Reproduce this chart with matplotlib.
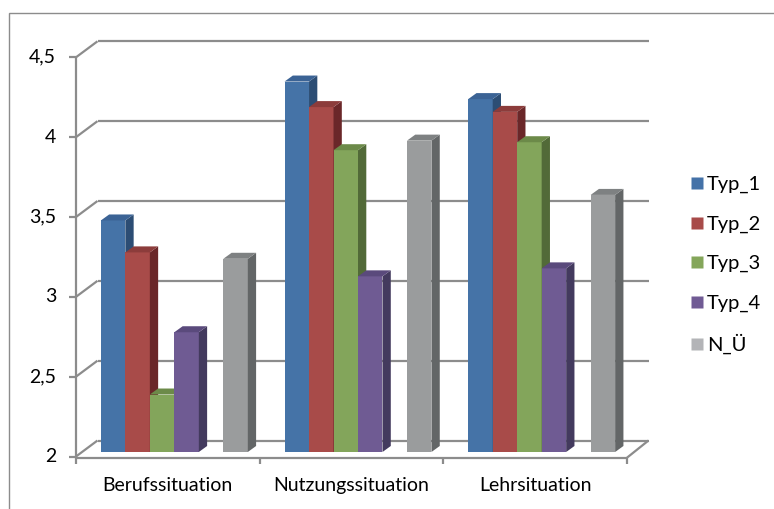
import matplotlib
matplotlib.use("Agg")
import matplotlib.pyplot as plt
from matplotlib.patches import Polygon, Rectangle
from matplotlib.lines import Line2D

plt.rcParams['font.family'] = ['Lato', 'DejaVu Sans']

# ---- data -------------------------------------------------------------
categories = ["Berufssituation", "Nutzungssituation", "Lehrsituation"]
series_names = ["Typ_1", "Typ_2", "Typ_3", "Typ_4", "N_Ü"]
typ_1 = [3.45, 4.32, 4.21]
typ_2 = [3.25, 4.16, 4.13]
typ_3 = [2.36, 3.89, 3.94]
typ_4 = [2.75, 3.10, 3.15]
n_ue = [3.21, 3.95, 3.61]
y_ticks = [2, 2.5, 3, 3.5, 4, 4.5]
y_tick_labels = ["2", "2,5", "3", "3,5", "4", "4,5"]

# ---- styling ----------------------------------------------------------
front_cols = ["#4573A7", "#A84B49", "#83A55B", "#6F5B93", "#9A9C9D"]
top_cols = ["#3B6395", "#8C3C3B", "#6C8A49", "#5A4A7C", "#7E8182"]
side_cols = ["#2C4D74", "#6A2729", "#526A38", "#433A5E", "#636667"]
legend_cols = ["#4472A8", "#A84B49", "#84A65A", "#705B94", "#B3B4B7"]
grid_col = "#8C8C8C"
fs = 14

W, H = 774, 509
fig = plt.figure(figsize=(W / 100, H / 100), dpi=100)

# front plane of the 3-D box (pixels)
x0, x1 = 76, 627
y_top, y_bot = 57.3, 456.5
ax = fig.add_axes([x0 / W, 1 - y_bot / H, (x1 - x0) / W, (y_bot - y_top) / H])
ax.set_xlim(0, len(categories))
ax.set_ylim(2, 4.5)
ax.axis("off")

sx = (x1 - x0) / len(categories)      # px per category
sy = (y_bot - y_top) / 2.5            # px per value unit


def off(px, py):
    """pixel offset -> data offset"""
    return px / sx, py / sy


wdx, wdy = off(21.5, 16)   # depth of the wall box
fdx, fdy = off(6.5, 4.5)   # bar front plane
bdx, bdy = off(8.3, 6.0)   # bar depth

lk = dict(color=grid_col, lw=1.6, clip_on=False, solid_capstyle="butt")
ymin = 2

# back wall grid lines and left wall diagonals
for v in y_ticks:
    ax.plot([wdx, len(categories) + wdx], [v + wdy, v + wdy], zorder=1, **lk)
    ax.plot([0, wdx], [v, v + wdy], zorder=1, **lk)
    ax.plot([-off(7, 0)[0], 0], [v, v], zorder=1, **lk)
# left front axis
ax.plot([0, 0], [ymin, 4.5], zorder=1, **lk)
# floor
ax.plot([0, len(categories)], [ymin - off(0, 1.2)[1]] * 2, zorder=1, **lk)
ax.plot([len(categories), len(categories) + wdx],
        [ymin - off(0, 1.2)[1], ymin + wdy], zorder=1, **lk)
for i in range(len(categories) + 1):
    ax.plot([i, i], [ymin - off(0, 1.2)[1], ymin - off(0, 7)[1]], zorder=1, **lk)

# bars
series = [typ_1, typ_2, typ_3, typ_4, n_ue]
slot_positions = [0, 1, 2, 3, 5]
n_slots = 6
margin = 0.1
slot_w = (1 - 2 * margin) / n_slots
z = 2
for ci in range(len(categories)):
    for si, vals in enumerate(series):
        v = vals[ci]
        xl = ci + margin + slot_positions[si] * slot_w + fdx
        xr = xl + slot_w
        yb = ymin + fdy
        yt = v + fdy
        ax.add_patch(Polygon([[xl, yb], [xr, yb], [xr, yt], [xl, yt]],
                             closed=True, facecolor=front_cols[si],
                             edgecolor="none", zorder=z, clip_on=False))
        ax.add_patch(Polygon([[xr, yb], [xr + bdx, yb + bdy], [xr + bdx, yt + bdy], [xr, yt]],
                             closed=True, facecolor=side_cols[si],
                             edgecolor="none", zorder=z, clip_on=False))
        ax.add_patch(Polygon([[xl, yt], [xr, yt], [xr + bdx, yt + bdy], [xl + bdx, yt + bdy]],
                             closed=True, facecolor=top_cols[si],
                             edgecolor="none", zorder=z, clip_on=False))
        z += 1

# axis labels
for v, lab in zip(y_ticks, y_tick_labels):
    ax.text(-off(20, 0)[0], v, lab, ha="right", va="center", fontsize=fs,
            color="#000000", clip_on=False)
for ci, lab in enumerate(categories):
    ax.text(ci + 0.5, ymin - off(0, 29)[1], lab, ha="center", va="center",
            fontsize=fs, color="#000000", clip_on=False)

# legend
handles = [Line2D([], [], marker="s", linestyle="none", markersize=9,
                  markerfacecolor=c, markeredgecolor="none") for c in legend_cols]
fig.legend(handles, series_names, loc="upper left",
           bbox_to_anchor=(690 / W, 1 - 176 / H), frameon=False,
           fontsize=14.5, handlelength=0.7, handletextpad=0.15,
           labelspacing=1.1, borderaxespad=0, borderpad=0)

# chart area border
fig.add_artist(Rectangle((8.5 / W, -0.1), 2, 1.1 - 12.5 / H,
                         transform=fig.transFigure, fill=False,
                         edgecolor="#8C8C8C", lw=1.0))

fig.savefig("out.png", dpi=100)
